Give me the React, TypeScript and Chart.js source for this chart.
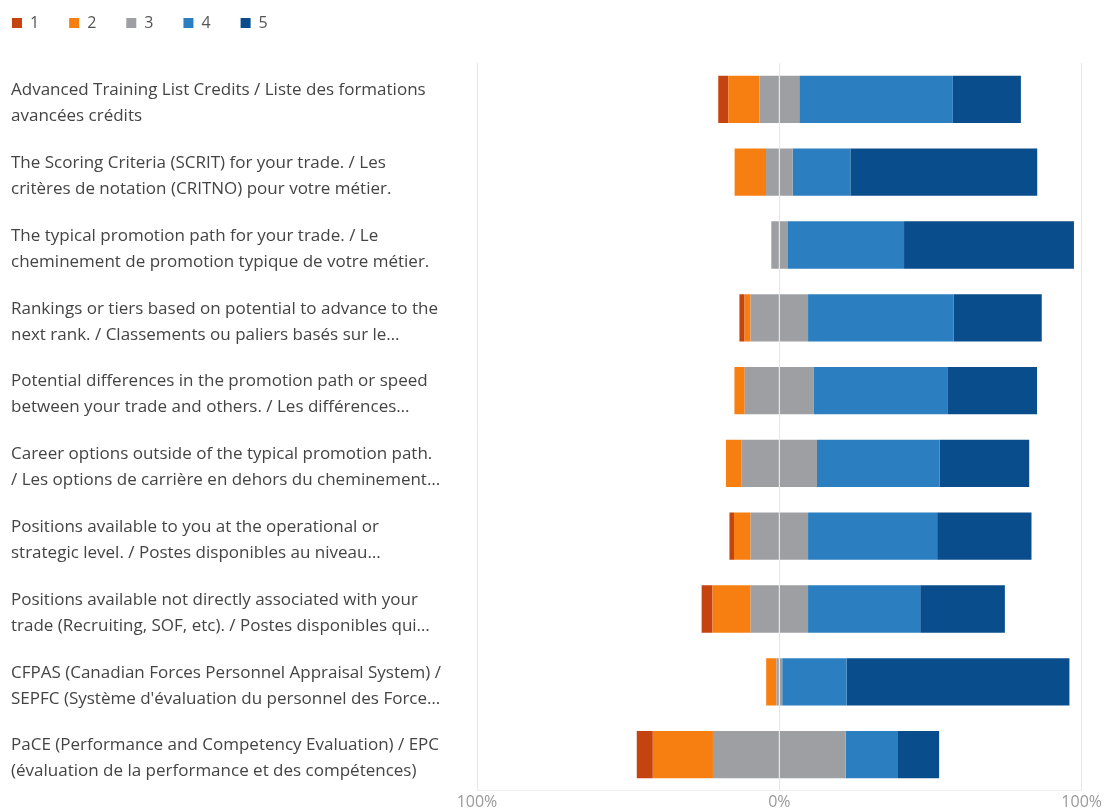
import React, { useEffect, useRef } from "react";
import { Chart, registerables } from "chart.js";

Chart.register(...registerables);

const categories: string[][] = [
  ["Advanced Training List Credits / Liste des formations", "avancées crédits"],
  ["The Scoring Criteria (SCRIT) for your trade. / Les", "critères de notation (CRITNO) pour votre métier."],
  ["The typical promotion path for your trade. / Le", "cheminement de promotion typique de votre métier."],
  ["Rankings or tiers based on potential to advance to the", "next rank. / Classements ou paliers basés sur le…"],
  ["Potential differences in the promotion path or speed", "between your trade and others. / Les différences…"],
  ["Career options outside of the typical promotion path.", "/ Les options de carrière en dehors du cheminement…"],
  ["Positions available to you at the operational or", "strategic level. / Postes disponibles au niveau…"],
  ["Positions available not directly associated with your", "trade (Recruiting, SOF, etc). / Postes disponibles qui…"],
  ["CFPAS (Canadian Forces Personnel Appraisal System) /", "SEPFC (Système d'évaluation du personnel des Force…"],
  ["PaCE (Performance and Competency Evaluation) / EPC", "(évaluation de la performance et des compétences)"],
];

// Percent of responses per rating
const rating1 = [3.3, 0, 0, 1.7, 0, 0, 1.5, 3.6, 0, 5.3];
const rating2 = [10.3, 10.4, 0, 2.0, 3.4, 5.2, 5.5, 12.6, 3.4, 19.9];
const rating3 = [13.2, 8.8, 5.3, 19.0, 22.9, 24.9, 19.0, 19.0, 1.9, 43.9];
const rating4 = [50.8, 19.1, 38.6, 48.1, 44.1, 40.6, 42.7, 37.1, 21.3, 17.3];
const rating5 = [22.5, 61.8, 56.2, 29.2, 29.7, 29.6, 31.2, 28.0, 73.7, 13.6];

const xTicks = [-100, 0, 100];

const COLORS = {
  r1: "#C4430E",
  r2: "#F77F12",
  r3: "#9D9FA3",
  r4: "#2B7FC0",
  r5: "#0A4D8C",
};

const FONT = "'Open Sans', 'Noto Sans', sans-serif";

const legendShift = {
  id: "legendShift",
  afterLayout(chart: any) {
    if (chart.legend) {
      chart.legend.left -= 29;
      chart.legend.top -= 22;
    }
  },
};

export default function App() {
  const ref = useRef<HTMLCanvasElement | null>(null);

  useEffect(() => {
    if (!ref.current) return;
    const chart = new Chart(ref.current, {
      type: "bar",
      plugins: [legendShift],
      data: {
        labels: categories,
        datasets: [
          { label: "3n", data: rating3.map((v) => -v / 2), backgroundColor: COLORS.r3 },
          { label: "3", data: rating3.map((v) => v / 2), backgroundColor: COLORS.r3 },
          { label: "2", data: rating2.map((v) => -v), backgroundColor: COLORS.r2 },
          { label: "4", data: rating4, backgroundColor: COLORS.r4 },
          { label: "1", data: rating1.map((v) => -v), backgroundColor: COLORS.r1 },
          { label: "5", data: rating5, backgroundColor: COLORS.r5 },
        ],
      },
      options: {
        responsive: false,
        animation: false,
        indexAxis: "y",
        layout: { padding: { left: 11, right: 21, top: 7, bottom: 0 } },
        datasets: {
          bar: { barPercentage: 0.65, categoryPercentage: 1, borderWidth: 0 },
        },
        plugins: {
          tooltip: { enabled: false },
          legend: {
            position: "top",
            align: "start",
            labels: {
              boxWidth: 10,
              boxHeight: 10,
              padding: 30,
              color: "#555",
              font: { family: FONT, size: 16 },
              filter: (item) => item.text !== "3n",
              sort: (a, b) => Number(a.text) - Number(b.text),
            },
          },
        },
        scales: {
          x: {
            stacked: true,
            min: -100,
            max: 100,
            afterBuildTicks: (scale) => {
              scale.ticks = xTicks.map((v) => ({ value: v }));
            },
            ticks: {
              color: "#9a9a9a",
              font: { family: FONT, size: 16 },
              padding: 2,
              callback: (v) => Math.abs(Number(v)) + "%",
            },
            grid: { color: "#e6e6e6", drawTicks: false, z: 1 },
            border: { display: true, color: "#eeeeee", z: 2 },
          },
          y: {
            stacked: true,
            afterFit: (scale) => {
              scale.width = 466;
            },
            ticks: {
              crossAlign: "far",
              labelOffset: 4,
              color: "#444",
              font: { family: FONT, size: 17, lineHeight: 1.53 },
            },
            grid: { display: false, drawTicks: false },
            border: { display: false },
          },
        },
      },
    });
    return () => chart.destroy();
  }, []);

  return (
    <div style={{ position: "absolute", left: 0, top: 0, width: 1104, height: 812, overflow: "hidden", background: "#fff" }}>
      <canvas ref={ref} width={1104} height={820} style={{ display: "block" }} />
    </div>
  );
}
